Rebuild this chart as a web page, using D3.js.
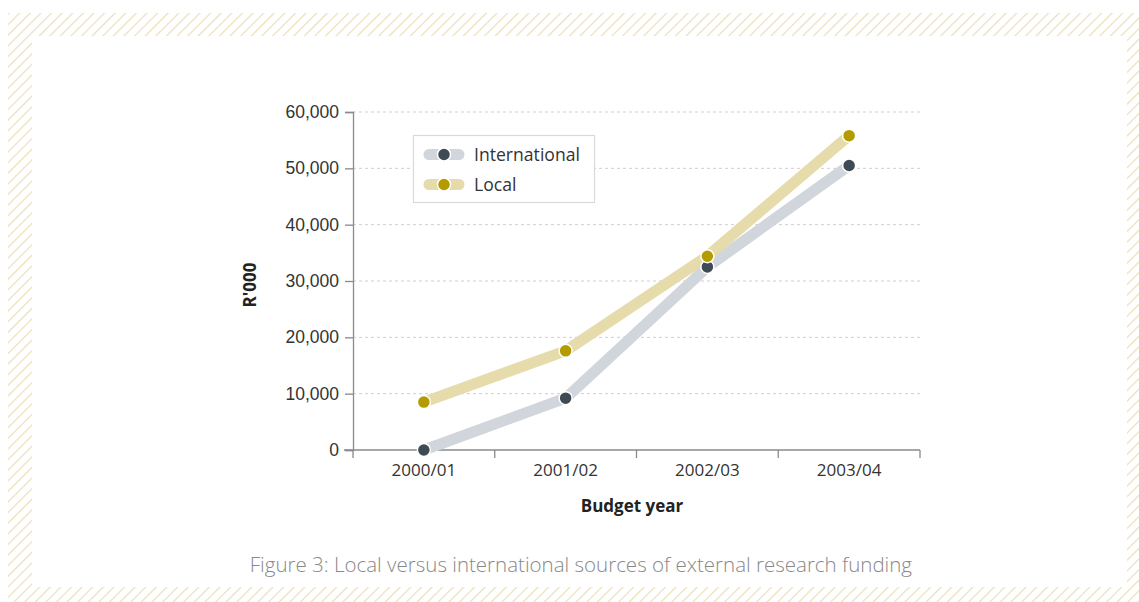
<!DOCTYPE html>
<html>
<head>
<meta charset="utf-8">
<script src="https://cdn.jsdelivr.net/npm/d3@7"></script>
<style>
  html, body { margin: 0; padding: 0; background: #fff; }
  svg { display: block; }
</style>
</head>
<body>
<svg id="chart" width="1139" height="602"></svg>
<script>
// Budget years and funding (R'000)
const years = ["2000/01", "2001/02", "2002/03", "2003/04"];
const international = [0, 9200, 32500, 50500];
const local = [8500, 17600, 34400, 55800];
const yTicks = [0, 10000, 20000, 30000, 40000, 50000, 60000];
const seriesNames = ["International", "Local"];

const W = 1139, H = 602;
const svg = d3.select("#chart");

// Hatched frame
const defs = svg.append("defs");
const pat = defs.append("pattern")
  .attr("id", "hatch")
  .attr("patternUnits", "userSpaceOnUse")
  .attr("width", 7.5).attr("height", 7.5)
  .attr("patternTransform", "rotate(45)");
pat.append("line")
  .attr("x1", 0).attr("y1", 0).attr("x2", 0).attr("y2", 7.5)
  .attr("stroke", "#eadfb8").attr("stroke-width", 2.4);

svg.append("path")
  .attr("fill", "url(#hatch)")
  .attr("fill-rule", "evenodd")
  .attr("d", `M8,13H${W}V${H}H8Z M32,36H1127V587H32Z`);

const x = d3.scaleBand().domain(years).range([353, 920]);
const y = d3.scaleLinear().domain([0, 60000]).range([450, 112]);

// Gridlines
svg.append("g").selectAll("line")
  .data(yTicks.filter(d => d > 0))
  .join("line")
  .attr("x1", 353).attr("x2", 920)
  .attr("y1", d => y(d)).attr("y2", d => y(d))
  .attr("stroke", "#cfcfcf").attr("stroke-width", 1)
  .attr("stroke-dasharray", "3,3");

// Y axis
const yAxis = svg.append("g")
  .attr("transform", "translate(353,0)")
  .call(d3.axisLeft(y).tickValues(yTicks).tickSize(8).tickPadding(6)
    .tickFormat(d3.format(",")));
yAxis.select(".domain").attr("stroke", "#8a8a8a").attr("stroke-width", 1.3);
yAxis.selectAll(".tick line").attr("stroke", "#8a8a8a").attr("stroke-width", 1.3);
yAxis.selectAll("text")
  .attr("font-family", "'Liberation Sans', Arial, sans-serif")
  .attr("font-size", 17.5).attr("fill", "#333");

// X axis
const xAxis = svg.append("g")
  .attr("transform", "translate(0,450)")
  .call(d3.axisBottom(x).tickSize(0).tickPadding(14));
xAxis.select(".domain").remove();
xAxis.selectAll("text")
  .attr("font-family", "'Open Sans', sans-serif")
  .attr("font-size", 17).attr("fill", "#333");
svg.append("line")
  .attr("x1", 344).attr("x2", 920).attr("y1", 450).attr("y2", 450)
  .attr("stroke", "#8a8a8a").attr("stroke-width", 1.3);
const bounds = years.map(d => x(d)).concat([x(years[years.length - 1]) + x.bandwidth()]);
svg.append("g").selectAll("line")
  .data(bounds).join("line")
  .attr("x1", d => d).attr("x2", d => d)
  .attr("y1", 450).attr("y2", 458)
  .attr("stroke", "#8a8a8a").attr("stroke-width", 1.3);

// Axis titles
svg.append("text")
  .attr("x", 632).attr("y", 512)
  .attr("text-anchor", "middle")
  .attr("font-family", "'Open Sans', sans-serif")
  .attr("font-weight", "bold").attr("font-size", 17).attr("fill", "#222")
  .text("Budget year");
svg.append("text")
  .attr("transform", "translate(256,285) rotate(-90)")
  .attr("text-anchor", "middle")
  .attr("font-family", "'Open Sans', sans-serif")
  .attr("font-weight", "bold").attr("font-size", 17).attr("fill", "#222")
  .text("R'000");

// Series
const series = [
  { name: seriesNames[0], values: international, line: "#d1d6dc", dot: "#3e4a54" },
  { name: seriesNames[1], values: local, line: "#e6dbab", dot: "#b39b00" }
];
const cx = d => x(d) + x.bandwidth() / 2;
const lineGen = d3.line().x(d => cx(d.year)).y(d => y(d.value));

series.forEach(s => {
  const pts = years.map((yr, i) => ({ year: yr, value: s.values[i] }));
  svg.append("path")
    .datum(pts)
    .attr("d", lineGen)
    .attr("fill", "none")
    .attr("stroke", s.line).attr("stroke-width", 11)
    .attr("stroke-linejoin", "round");
});
series.forEach(s => {
  const pts = years.map((yr, i) => ({ year: yr, value: s.values[i] }));
  svg.append("g").selectAll("circle")
    .data(pts).join("circle")
    .attr("cx", d => cx(d.year)).attr("cy", d => y(d.value))
    .attr("r", 6.5)
    .attr("fill", s.dot).attr("stroke", "#fff").attr("stroke-width", 1.5);
});

// Legend
const lg = svg.append("g");
lg.append("rect")
  .attr("x", 413.5).attr("y", 135.5).attr("width", 181).attr("height", 67)
  .attr("fill", "#fff").attr("stroke", "#d9d9d9").attr("stroke-width", 1.2);
series.forEach((s, i) => {
  const ly = 154.5 + i * 30;
  lg.append("line")
    .attr("x1", 429).attr("x2", 459).attr("y1", ly).attr("y2", ly)
    .attr("stroke", s.line).attr("stroke-width", 11).attr("stroke-linecap", "round");
  lg.append("circle")
    .attr("cx", 444).attr("cy", ly).attr("r", 6.5)
    .attr("fill", s.dot).attr("stroke", "#fff").attr("stroke-width", 1.5);
  lg.append("text")
    .attr("x", 474).attr("y", ly + 6.5)
    .attr("font-family", "'Open Sans', sans-serif")
    .attr("font-size", 17.6).attr("fill", "#333")
    .text(s.name);
});

// Caption
svg.append("text")
  .attr("x", 912).attr("y", 572)
  .attr("text-anchor", "end")
  .attr("font-family", "'Open Sans', sans-serif")
  .attr("font-weight", 300)
  .attr("font-size", 20.5).attr("fill", "#888")
  .text("Figure 3: Local versus international sources of external research funding");
</script>
</body>
</html>
